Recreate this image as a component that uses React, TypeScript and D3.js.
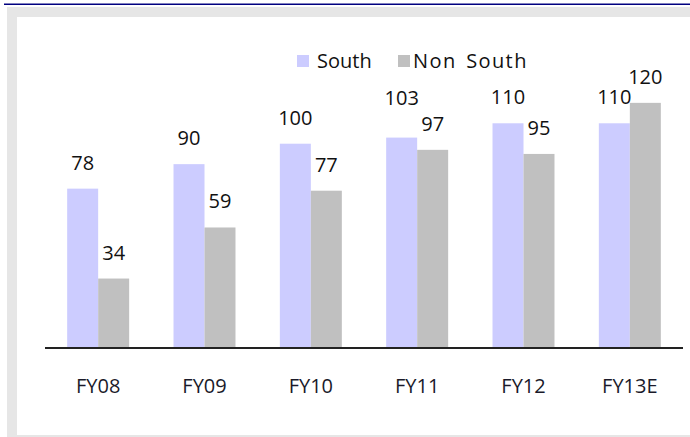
import React from 'react'
import * as d3 from 'd3'

const categories = ['FY08', 'FY09', 'FY10', 'FY11', 'FY12', 'FY13E']
const seriesNames = ['South', 'Non South']
const south = [78, 90, 100, 103, 110, 110]
const nonSouth = [34, 59, 77, 97, 95, 120]
const colors = ['#ccccff', '#c0c0c0']

// the 103 label sits higher in the original, moved off the 97
const labelNudge: Record<string, number> = { 'FY11-0': -14 }

const W = 690
const H = 437
const margin = { left: 45, right: 7, top: 62, bottom: 89 }

export default function App() {
  const values = [south, nonSouth]
  const baseY = H - margin.bottom

  const x = d3.scaleBand<string>()
    .domain(categories)
    .range([margin.left, W - margin.right])
    .paddingInner(0.417)
    .paddingOuter(0.2085)
  const xs = d3.scaleBand<number>()
    .domain(d3.range(seriesNames.length))
    .range([0, x.bandwidth()])
  const y = d3.scaleLinear().domain([0, 140]).range([baseY, margin.top])

  const font = '"Open Sans", sans-serif'

  return (
    <div style={{ position: 'fixed', left: 0, top: 0 }}>
      <svg width={W} height={H} style={{ display: 'block' }}>
        <rect x={0} y={0} width={W} height={H} fill="#fff" />
        <rect x={4} y={3.5} width={W - 4} height={1.5} fill="#000080" />
        <rect x={7} y={7} width={W - 7} height={H - 7} fill="#e6e6e6" />
        <rect x={17} y={17} width={W - 17} height={435 - 17} fill="#fff" />

        {/* legend */}
        <g fontFamily={font} fontSize={20} fill="#111">
          <rect x={297} y={55} width={12} height={12} fill={colors[0]} />
          <text x={317} y={68}>{seriesNames[0]}</text>
          <rect x={398} y={55} width={12} height={12} fill={colors[1]} />
          <text x={413} y={68} letterSpacing={1.4} wordSpacing={3}>{seriesNames[1]}</text>
        </g>

        {categories.map((c, i) => (
          <g key={c} transform={`translate(${x(c)},0)`}>
            {values.map((vals, s) => (
              <rect
                key={s}
                x={xs(s)}
                y={y(vals[i])}
                width={xs.bandwidth()}
                height={baseY - y(vals[i])}
                fill={colors[s]}
              />
            ))}
            {values.map((vals, s) => (
              <text
                key={'l' + s}
                x={(xs(s) || 0) + xs.bandwidth() / 2}
                y={y(vals[i]) - 19 + (labelNudge[`${c}-${s}`] || 0)}
                textAnchor="middle"
                fontFamily={font}
                fontSize={20}
                fill="#111"
              >
                {vals[i]}
              </text>
            ))}
          </g>
        ))}

        <line x1={margin.left} x2={W - margin.right} y1={baseY} y2={baseY} stroke="#222" strokeWidth={2} />

        {categories.map(c => (
          <text
            key={'t' + c}
            x={(x(c) || 0) + x.bandwidth() / 2}
            y={393}
            textAnchor="middle"
            fontFamily={font}
            fontSize={20}
            fill="#1a1a2a"
          >
            {c}
          </text>
        ))}
      </svg>
    </div>
  )
}
